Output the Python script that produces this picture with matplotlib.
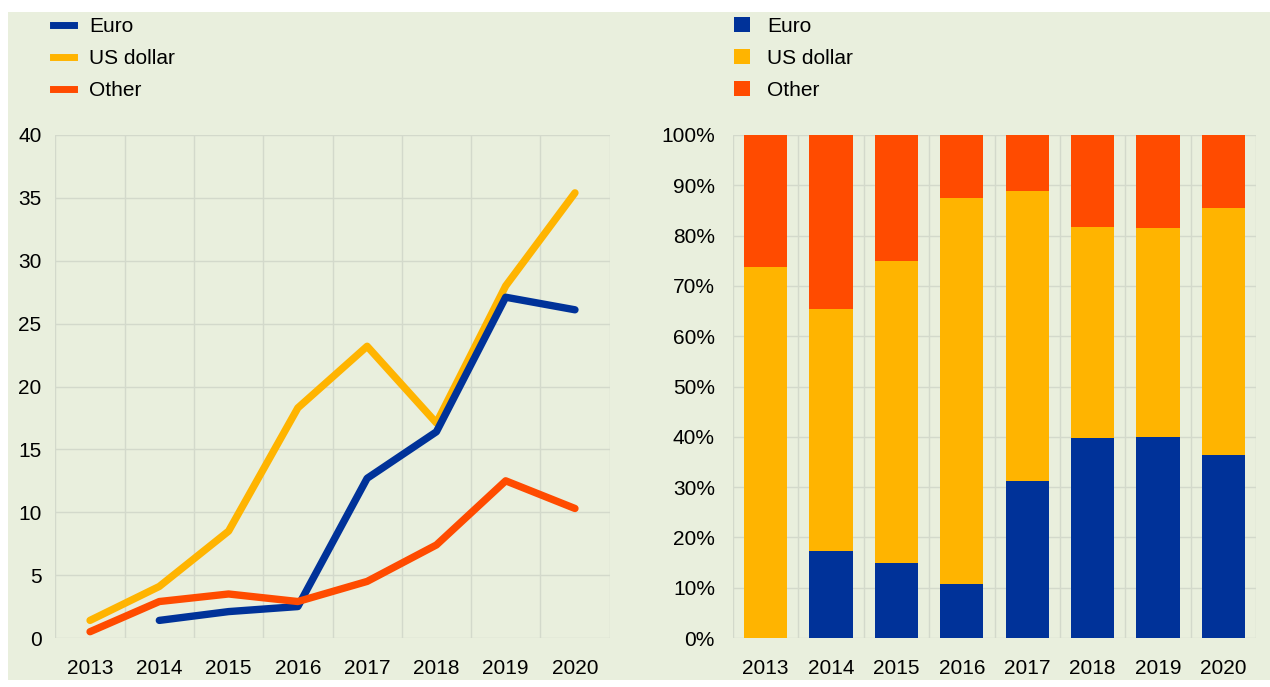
import matplotlib
matplotlib.use("Agg")
import matplotlib.pyplot as plt
from matplotlib.patches import Rectangle
from matplotlib.lines import Line2D
from matplotlib.ticker import FuncFormatter
import numpy as np

years = ["2013", "2014", "2015", "2016", "2017", "2018", "2019", "2020"]

# Issuance amounts by currency
euro_amt = [np.nan, 1.4, 2.1, 2.5, 12.7, 16.4, 27.1, 26.1]
usd_amt = [1.4, 4.1, 8.5, 18.3, 23.2, 17.1, 28.0, 35.4]
other_amt = [0.5, 2.9, 3.5, 2.9, 4.5, 7.4, 12.5, 10.3]

# Currency shares (percent)
euro_pct = [0.0, 17.2, 15.0, 10.8, 31.3, 39.8, 40.0, 36.3]
usd_pct = [73.8, 48.3, 60.0, 76.7, 57.5, 42.0, 41.6, 49.2]
other_pct = [26.2, 34.5, 25.0, 12.5, 11.2, 18.2, 18.4, 14.5]

labels = ["Euro", "US dollar", "Other"]
BLUE, YELLOW, ORANGE = "#003299", "#FFB400", "#FF4B00"
BG = "#E9EFDD"
GRID = "#D3D9CB"

plt.rcParams["font.family"] = ["Liberation Sans Narrow", "Liberation Sans", "DejaVu Sans"]
FS = 15
plt.rcParams["font.size"] = FS

W, H = 1270, 687
fig = plt.figure(figsize=(W / 100, H / 100), dpi=100, facecolor="white")
fig.patches.append(Rectangle((8 / W, 1 - 680 / H), (W - 8) / W, (680 - 12) / H,
                             transform=fig.transFigure, facecolor=BG, edgecolor="none", zorder=-10))

def fx(px):
    return px / W

def fy(py):
    return 1 - py / H

top, bot = 135, 638
axL = fig.add_axes([fx(55.4), fy(bot), fx(609.6 - 55.4), (bot - top) / H])
axR = fig.add_axes([fx(733), fy(bot), fx(1256 - 733), (bot - top) / H])

x = np.arange(len(years))

for ax in (axL, axR):
    ax.set_zorder(1)
    ax.set_facecolor("none")
    for s in ax.spines.values():
        s.set_visible(False)
    ax.set_xlim(-0.5, len(years) - 0.5)
    ax.set_xticks(x)
    ax.set_xticklabels(years)
    ax.set_xticks(np.arange(-0.5, len(years)), minor=True)
    ax.grid(True, which="minor", axis="x", color=GRID, lw=1.0)
    ax.grid(True, which="major", axis="y", color=GRID, lw=1.0)
    ax.tick_params(which="both", length=0)
    ax.tick_params(axis="x", pad=15)
    ax.set_axisbelow(True)

# Left: amounts as lines
axL.set_ylim(0, 40)
axL.set_yticks(np.arange(0, 41, 5))
axL.tick_params(axis="y", pad=10)
lw = 5.3
axL.plot(x, usd_amt, color=YELLOW, lw=lw, solid_capstyle="round", zorder=3)
axL.plot(x, euro_amt, color=BLUE, lw=lw, solid_capstyle="round", zorder=4)
axL.plot(x, other_amt, color=ORANGE, lw=lw, solid_capstyle="round", zorder=5)

# Right: shares as stacked bars
bw = 0.66
axR.set_ylim(0, 100)
axR.set_yticks(np.arange(0, 101, 10))
axR.yaxis.set_major_formatter(FuncFormatter(lambda v, p: f"{v:.0f}%"))
axR.tick_params(axis="y", pad=13)
e = np.array(euro_pct)
u = np.array(usd_pct)
o = np.array(other_pct)
axR.bar(x, e, width=bw, color=BLUE, zorder=3)
axR.bar(x, u, width=bw, bottom=e, color=YELLOW, zorder=3)
axR.bar(x, o, width=bw, bottom=e + u, color=ORANGE, zorder=3)

# Legends
line_handles = [Line2D([0], [0], color=c, lw=5) for c in (BLUE, YELLOW, ORANGE)]
fig.legend(line_handles, labels, loc="upper left", bbox_to_anchor=(fx(53), fy(17)),
           frameon=False, handlelength=1.0, handletextpad=0.75, labelspacing=0.62,
           borderpad=0, borderaxespad=0, fontsize=FS)

box_handles = [Rectangle((0, 0), 1, 1, facecolor=c, edgecolor="none") for c in (BLUE, YELLOW, ORANGE)]
fig.legend(box_handles, labels, loc="upper left", bbox_to_anchor=(fx(734), fy(17)),
           frameon=False, handlelength=0.75, handleheight=0.75, handletextpad=0.85,
           labelspacing=0.62, borderpad=0, borderaxespad=0, fontsize=FS)

fig.savefig("out.png", dpi=100, facecolor="white")
